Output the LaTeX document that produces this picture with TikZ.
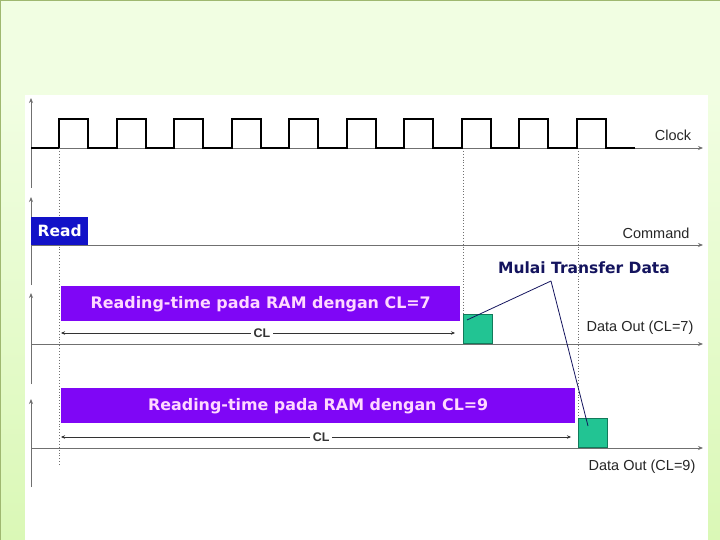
\documentclass[tikz,border=0pt]{standalone}
\usepackage{fontspec}
\setmainfont{Liberation Sans}
\newfontfamily\boxfont{DejaVu Sans}
\usepackage{xcolor}
\usepackage{tikz}
\usetikzlibrary{arrows.meta,positioning,calc}
\definecolor{bglight}{HTML}{F1FEE2}
\definecolor{bgside}{HTML}{DAF8B6}
\definecolor{bgedge}{HTML}{9FB870}
\definecolor{axisgray}{HTML}{707070}
\definecolor{readblue}{HTML}{1212C8}
\definecolor{barviolet}{HTML}{7F06F6}
\definecolor{barpink}{HTML}{FFD8FF}
\definecolor{outgreen}{HTML}{22C493}
\definecolor{outedge}{HTML}{127A5A}
\definecolor{navy}{HTML}{14145E}
\tikzset{
  axis/.style={draw=axisgray,line width=0.9pt,-{Stealth[length=5pt,width=4pt]}},
  clk/.style={draw=black,line width=2pt,line join=miter},
  guide/.style={draw=axisgray,line width=0.9pt,dotted},
  readbox/.style={rectangle,fill=readblue,minimum width=57pt,minimum height=28pt,
                  inner sep=0pt,text=white,font=\boxfont\bfseries\fontsize{15.5}{18}\selectfont},
  bar/.style={rectangle,fill=barviolet,minimum height=35pt,inner sep=0pt,
              text=barpink,font=\boxfont\bfseries\fontsize{15.9}{18}\selectfont},
  outbox/.style={rectangle,draw=outedge,line width=1pt,fill=outgreen,
                 minimum width=29pt,minimum height=29pt,inner sep=0pt},
  sig/.style={font=\fontsize{14.5}{17}\selectfont,text=black!85,inner sep=0pt},
  span/.style={{Stealth[length=4pt,width=3.5pt]}-{Stealth[length=4pt,width=3.5pt]},
               draw=black!80,line width=0.6pt},
  cllabel/.style={fill=white,inner xsep=3pt,inner ysep=0pt,text=black!80,
                  font=\bfseries\fontsize{12.5}{14}\selectfont},
  pointer/.style={draw=navy,line width=0.8pt},
}
\begin{document}
\begin{tikzpicture}[x=1pt,y=-1pt]
  % page and panel
  \useasboundingbox (0,0) rectangle (720,540);
  \fill[bglight] (0,0) rectangle (720,540);
  \shade[top color=bglight,bottom color=bgside] (0,95) rectangle (25,540);
  \shade[top color=bglight,bottom color=bgside] (708,95) rectangle (720,540);
  \draw[bgedge,line width=2pt] (0,540) -- (0,0) -- (720,0);
  \fill[white] (25,95) rectangle (708,540);

  % time axes
  \draw[axis] (31,188) -- (31,98);
  \draw[axis] (31,285) -- (31,197);
  \draw[axis] (31,384) -- (31,293);
  \draw[axis] (31,487) -- (31,399);
  \foreach \y in {148,245,344,448}
    \draw[axis] (31,\y) -- (703,\y);

  % clock
  \draw[clk] (31,148) foreach \k in {0,...,9} {
      -- ({59+57.56*\k},148) -- ({59+57.56*\k},119)
      -- ({88+57.56*\k},119) -- ({88+57.56*\k},148) } -- (635,148);

  % guides
  \draw[guide] (59,148) -- (59,465);
  \draw[guide] (463,148) -- (463,315);
  \draw[guide] (578,148) -- (578,419);

  % signals
  \node[readbox,anchor=south west] (read) at (31,245) {Read};
  \node[bar,minimum width=399pt,anchor=north west] (bar7) at (61,286) {Reading-time pada RAM dengan CL=7};
  \node[bar,minimum width=514pt,anchor=north west] (bar9) at (61,388) {Reading-time pada RAM dengan CL=9};
  \node[outbox,anchor=south west] (out7) at (463,344) {};
  \node[outbox,anchor=south west] (out9) at (578,448) {};

  \coordinate (cl7a) at (61,333);
  \coordinate (cl7b) at (455,333);
  \coordinate (cl9a) at (61,437);
  \coordinate (cl9b) at (571,437);
  \draw[span] (cl7a) -- node[cllabel,pos=0.51] (cl7) {CL} (cl7b);
  \draw[span] (cl9a) -- node[cllabel,pos=0.51] (cl9) {CL} (cl9b);

  \node[sig] (clock) at (673,135) {Clock};
  \node[sig] (cmd) at (656,233) {Command};
  \node[sig] (dout7) at (640,328) {Data Out (CL=7)};
  \node[sig] (dout9) at (642,467) {Data Out (CL=9)};

  % start of transfer
  \node[text=navy,inner sep=0pt,font=\boxfont\bfseries\fontsize{15.5}{18}\selectfont] (mulai) at (584,268) {Mulai Transfer Data};
  \coordinate (tip) at (551,281);
  \draw[pointer] (tip) -- ([shift={(4pt,-6pt)}]out7.north west);
  \draw[pointer] (tip) -- ([shift={(10pt,-8pt)}]out9.north west);
\end{tikzpicture}
\end{document}
